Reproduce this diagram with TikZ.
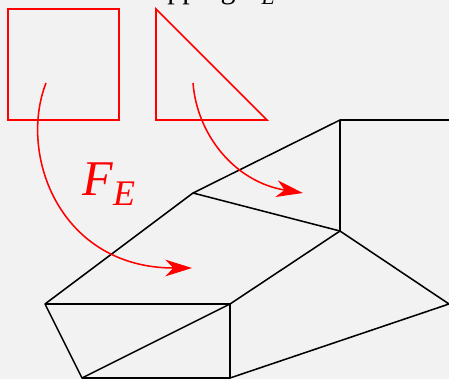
\documentclass[tikz,border=0pt]{standalone}
\usepackage{amsmath}
\usepackage{xcolor}
\usepackage{graphicx}
\usepackage{fontspec}
\setmainfont{Liberation Serif}
\usetikzlibrary{arrows.meta}
\definecolor{pagegray}{gray}{0.95}
\newcommand{\mapsym}{\textit{F}\raisebox{-0.2em}{\scalebox{0.72}{\textit{E}}}}
\tikzset{
  refshape/.style={red, line width=1.15pt},
  meshline/.style={black, line width=1.15pt, line join=round},
  mapcurve/.style={red, line width=1.15pt, -{Stealth[length=20pt,width=12.5pt,inset=6pt]}},
}
\begin{document}
\begin{tikzpicture}[x=0.75pt, y=-0.75pt]
\useasboundingbox (0,0) rectangle (449,379);
\clip (0,0) rectangle (449,379);
\fill[pagegray] (0,0) rectangle (449,379);
% reference elements
\draw[refshape] (8,9) rectangle (119,120);
\draw[refshape] (156,9) -- (156,120) -- (267,120) -- cycle;
% mesh
\coordinate (A) at (45,304);
\coordinate (B) at (82,378);
\coordinate (C) at (230,378);
\coordinate (D) at (230,304);
\coordinate (E) at (193,193);
\coordinate (G) at (340,231);
\coordinate (H) at (340,120);
\coordinate (K) at (449,304);
\coordinate (L) at (449,120);
\draw[meshline] (L) -- (H) -- (G) -- (E) -- (H);
\draw[meshline] (E) -- (A) -- (B) -- (C) -- (D) -- (A);
\draw[meshline] (B) -- (D) -- (G) -- (K) -- (C);
% mappings
\draw[mapcurve] (46,83) .. controls (18,155) and (60,268) .. (192,268);
\draw[mapcurve] (193,83) .. controls (197,135) and (235,182) .. (303,193);
\node[red, anchor=base west, inner sep=0pt, font=\fontsize{37.5}{40}\selectfont] (FE) at (82,195) {\mapsym};
\node[anchor=base west, inner sep=0pt, font=\fontsize{22.5}{25}\selectfont] (title) at (127,-1.5) {Mapping \mapsym};
\end{tikzpicture}
\end{document}
